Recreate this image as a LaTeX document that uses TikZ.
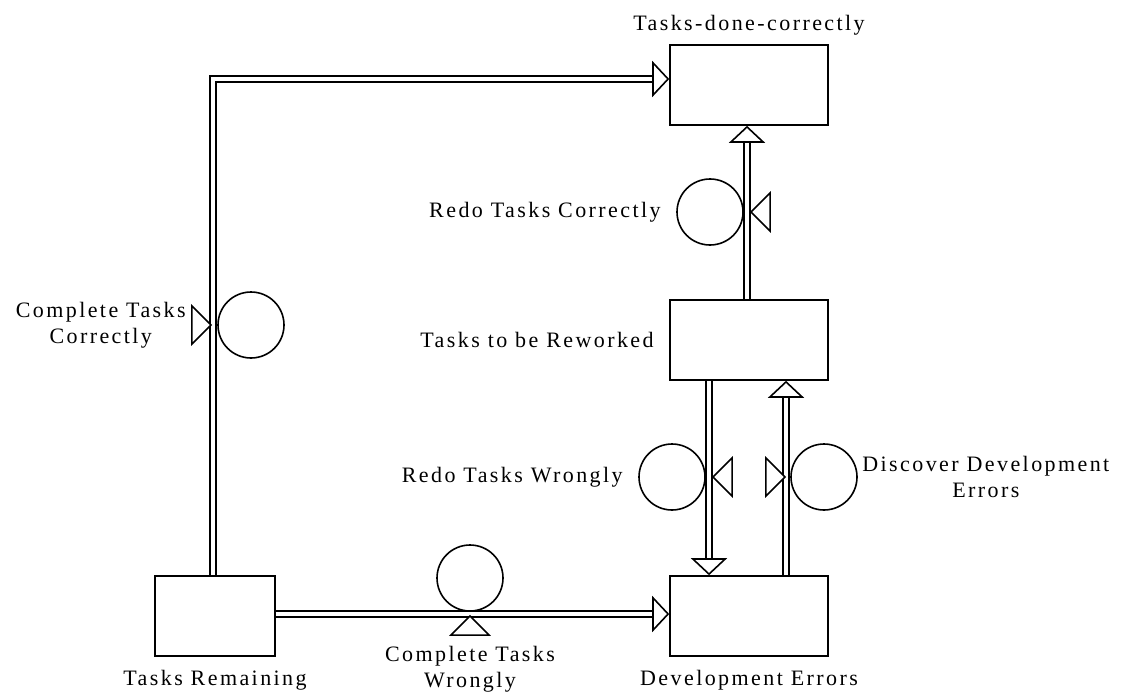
\documentclass[tikz,border=0pt]{standalone}
\usepackage{fontspec}
\setmainfont{Liberation Serif}[LetterSpace=11]
\usetikzlibrary{shapes.geometric, arrows.meta, positioning}

\begin{document}
\begin{tikzpicture}[
    x=1pt, y=-1pt,
    every node/.style={font=\fontsize{22}{26}\selectfont},
    stock/.style={rectangle, draw, line width=1.6pt, minimum width=158pt, minimum height=80pt, inner sep=0pt},
    rate/.style={circle, draw, line width=1.6pt, minimum size=66pt, inner sep=0pt},
    valve/.style={isosceles triangle, isosceles triangle stretches, draw, line width=1.6pt, fill=white, minimum height=19pt, minimum width=38pt, inner sep=0pt, anchor=apex},
    pipe/.style={double, double distance=4.5pt, line width=1.6pt, -{Triangle[open, length=17pt, width=36pt, line width=1.6pt]}}
]
\useasboundingbox (0,0) rectangle (1134,698);

% stocks
\node (done) [stock, label={[label distance=5pt]above:Tasks-done-correctly}] at (749,85) {};
\node (rework) [stock, label={[label distance=12pt]left:Tasks to be Reworked}] at (749,340) {};
\node (remaining) [stock, minimum width=120pt, label={[label distance=10pt]below:Tasks Remaining}] at (215,616) {};
\node (errors) [stock, label={[label distance=10pt]below:Development Errors}] at (749,616) {};

% flows
\draw [pipe] ([xshift=-2pt]remaining.north) |- ([yshift=6pt]done.west);
\draw [pipe] ([yshift=2pt]remaining.east) -- ([yshift=2pt]errors.west);
\draw [pipe] ([xshift=-40pt]rework.south) -- ([xshift=-40pt]errors.north);
\draw [pipe] ([xshift=37pt]errors.north) -- ([xshift=37pt]rework.south);
\draw [pipe] ([xshift=-2pt]rework.north) -- ([xshift=-2pt]done.south);

% rates and valves
\node (ctc) [rate, label={[align=center, label distance=28pt]left:Complete Tasks\\Correctly}] at (251,325) {};
\node (ctcv) [valve, shape border rotate=0] at (213,325) {};

\node (ctw) [rate] at (470,578) {};
\node (ctwv) [valve, shape border rotate=90, label={[align=center, label distance=7pt]below:Complete Tasks\\Wrongly}] at (470,614) {};

\node (rtw) [rate, label={[label distance=12pt]left:Redo Tasks Wrongly}] at (672,477) {};
\node (rtwv) [valve, shape border rotate=180] at (711,477) {};

\node (dde) [rate, label={[align=center, label distance=1pt]right:Discover Development\\Errors}] at (824,477) {};
\node (ddev) [valve, shape border rotate=0] at (787,477) {};

\node (rtc) [rate, label={[label distance=12pt]left:Redo Tasks Correctly}] at (710,212) {};
\node (rtcv) [valve, shape border rotate=180] at (749,212) {};

\end{tikzpicture}
\end{document}
